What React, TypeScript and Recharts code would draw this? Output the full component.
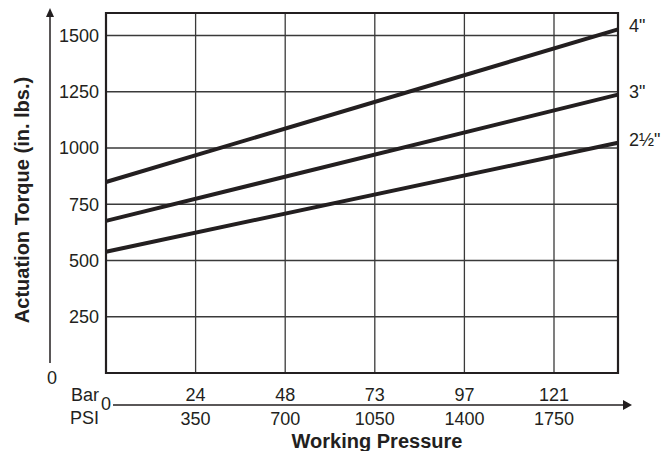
import React from "react";
import {
  LineChart,
  Line,
  XAxis,
  YAxis,
  CartesianGrid,
  ReferenceArea,
  Customized,
} from "recharts";

// working pressure (PSI) at the two ends of each line
const PSI = [0, 2000];
// actuation torque (in. lbs.) by actuator size
const SIZE_4 = [849, 1527];
const SIZE_3 = [676, 1237];
const SIZE_2_5 = [539, 1023];

const SERIES = [
  { key: "s4", name: '4"', values: SIZE_4 },
  { key: "s3", name: '3"', values: SIZE_3 },
  { key: "s25", name: "2½\"", values: SIZE_2_5 },
];

const PSI_TICKS = [0, 350, 700, 1050, 1400, 1750];
const BAR_TICKS = [0, 24, 48, 73, 97, 121];
const TORQUE_TICKS = [250, 500, 750, 1000, 1250, 1500];

const INK = "#231f20";
const GRID = "#3a3a3a";
const FONT = '"Liberation Sans", Arial, Helvetica, sans-serif';
const TICK_SIZE = 18;

const W = 670;
const H = 451;
const TOP = 13;
const LEFT = 106;
const RIGHT = 52;
const BOTTOM = 78;

const data = PSI.map((p, i) => {
  const row: Record<string, number> = { psi: p };
  SERIES.forEach((s) => {
    row[s.key] = s.values[i];
  });
  return row;
});

function PressureTick(props: any) {
  const { x, payload, index } = props;
  const v = payload.value as number;
  if (v === 0) {
    return (
      <g fontFamily={FONT} fontSize={TICK_SIZE} fill={INK}>
        <text x={x - 7} y={401} textAnchor="end" fill={INK}>
          Bar
        </text>
        <text x={x - 7} y={424} textAnchor="end" fill={INK}>
          PSI
        </text>
        <text x={x} y={410} textAnchor="middle" fill={INK}>
          0
        </text>
      </g>
    );
  }
  return (
    <g fontFamily={FONT} fontSize={TICK_SIZE} fill={INK}>
      <text x={x} y={401} textAnchor="middle" fill={INK}>
        {BAR_TICKS[index]}
      </text>
      <text x={x} y={424.5} textAnchor="middle" fill={INK}>
        {v}
      </text>
    </g>
  );
}

function endLabel(name: string) {
  return function renderLabel(props: any) {
    const { x, y, index } = props;
    if (index !== PSI.length - 1 || x == null || y == null) return <g />;
    return (
      <text x={x + 11} y={y + 3} fontFamily={FONT} fontSize={TICK_SIZE} fill={INK}>
        {name}
      </text>
    );
  };
}

function Decorations() {
  const plotBottom = H - BOTTOM;
  const axisY = 405;
  return (
    <g fontFamily={FONT} fill={INK}>
      {/* torque arrow */}
      <line x1={50} y1={363} x2={50} y2={16} stroke={INK} strokeWidth={1.5} />
      <polygon points="50,8 46,17 54,17" fill={INK} />
      <text x={52} y={plotBottom + 11} textAnchor="middle" fontSize={TICK_SIZE}>
        0
      </text>
      <text
        transform="translate(29,200) rotate(-90)"
        textAnchor="middle"
        fontSize={20}
        fontWeight="bold"
      >
        Actuation Torque (in. lbs.)
      </text>
      {/* pressure arrow */}
      <line x1={113} y1={axisY} x2={624} y2={axisY} stroke={INK} strokeWidth={1.5} />
      <polygon points={`632,${axisY} 623,${axisY - 5} 623,${axisY + 5}`} fill={INK} />
      <text x={377} y={448} textAnchor="middle" fontSize={20} fontWeight="bold">
        Working Pressure
      </text>
    </g>
  );
}

export default function App() {
  return (
    <div style={{ position: "absolute", left: 0, top: 0, width: W, height: H, background: "#fff" }}>
      <LineChart
        width={W}
        height={H}
        data={data}
        margin={{ top: TOP, right: RIGHT, left: 0, bottom: 0 }}
      >
        <CartesianGrid
          stroke={GRID}
          strokeWidth={1.3}
          horizontalValues={TORQUE_TICKS}
          verticalValues={PSI_TICKS}
        />
        <XAxis
          dataKey="psi"
          type="number"
          domain={[0, 2000]}
          ticks={PSI_TICKS}
          interval={0}
          height={BOTTOM}
          axisLine={false}
          tickLine={false}
          tickSize={0}
          tickMargin={0}
          tick={<PressureTick />}
        />
        <YAxis
          type="number"
          domain={[0, 1600]}
          ticks={TORQUE_TICKS}
          interval={0}
          width={LEFT}
          axisLine={false}
          tickLine={false}
          tickSize={0}
          tickMargin={7}
          tick={{ fontSize: TICK_SIZE, fill: INK, fontFamily: FONT }}
        />
        <ReferenceArea
          x1={0}
          x2={2000}
          y1={0}
          y2={1600}
          fill="none"
          fillOpacity={0}
          stroke={INK}
          strokeWidth={2.2}
        />
        {SERIES.map((s) => (
          <Line
            key={s.key}
            dataKey={s.key}
            type="linear"
            stroke={INK}
            strokeWidth={4}
            dot={false}
            activeDot={false}
            isAnimationActive={false}
            label={endLabel(s.name)}
          />
        ))}
        <Customized component={<Decorations />} />
      </LineChart>
    </div>
  );
}
